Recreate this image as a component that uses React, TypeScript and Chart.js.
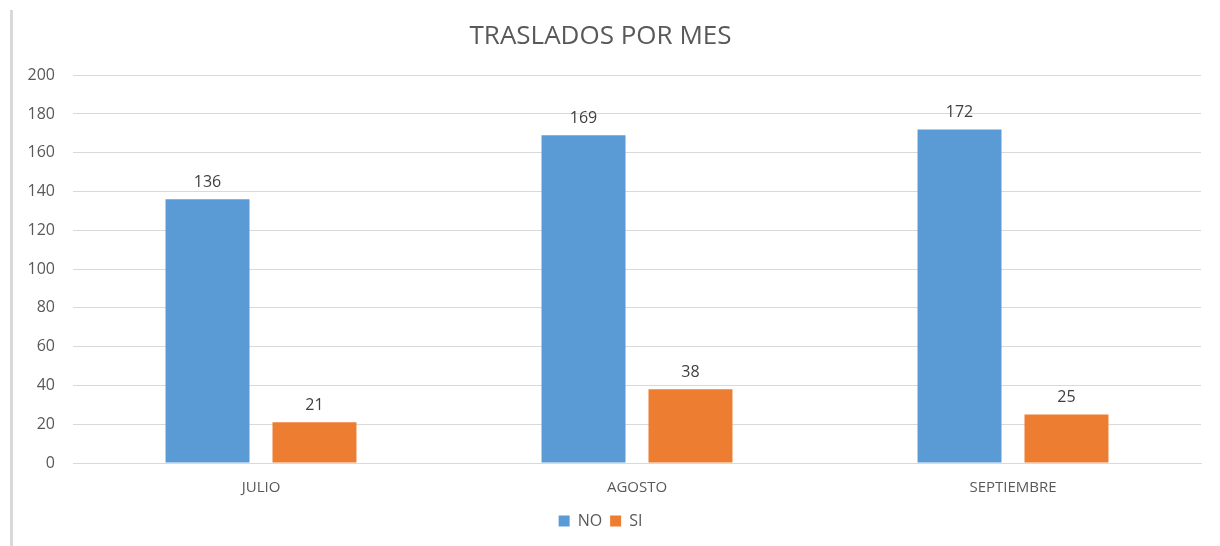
import React, { useEffect, useRef } from "react";
import { Chart, registerables } from "chart.js";

Chart.register(...registerables);

const categories = ["JULIO", "AGOSTO", "SEPTIEMBRE"];
const seriesNames = ["NO", "SI"];
const noValues = [136, 169, 172];
const siValues = [21, 38, 25];
const colors = ["#5B9BD5", "#ED7D31"];
const titleText = "TRASLADOS POR MES";

const FONT = "'Open Sans', 'Noto Sans', sans-serif";
const TEXT = "#595959";

const labelPlugin = {
  id: "barLabels",
  afterDatasetsDraw(chart: any) {
    const ctx = chart.ctx;
    ctx.save();
    ctx.font = `16px ${FONT}`;
    ctx.fillStyle = "#404040";
    ctx.textAlign = "center";
    ctx.textBaseline = "middle";
    chart.data.datasets.forEach((ds: any, i: number) => {
      const meta = chart.getDatasetMeta(i);
      meta.data.forEach((bar: any, j: number) => {
        ctx.fillText(String(ds.data[j]), bar.x, bar.y - 17);
      });
    });
    ctx.restore();
  },
};

export default function App() {
  const ref = useRef<HTMLCanvasElement | null>(null);
  useEffect(() => {
    if (!ref.current) return;
    const chart = new Chart(ref.current, {
      type: "bar",
      data: {
        labels: categories,
        datasets: [
          { label: seriesNames[0], data: noValues, backgroundColor: colors[0] },
          { label: seriesNames[1], data: siValues, backgroundColor: colors[1] },
        ],
      },
      plugins: [labelPlugin],
      options: {
        animation: false,
        responsive: false,
        maintainAspectRatio: false,
        layout: { padding: { left: 0, right: 19, top: 8, bottom: 7 } },
        datasets: {
          bar: { categoryPercentage: 0.569, barPercentage: 0.785 },
        },
        plugins: {
          title: {
            display: true,
            text: titleText,
            color: TEXT,
            font: { family: FONT, size: 26, weight: "normal" },
            padding: { top: 13, bottom: 23 },
          },
          legend: {
            position: "bottom",
            labels: {
              boxWidth: 11,
              boxHeight: 11,
              color: TEXT,
              font: { family: FONT, size: 16 },
              padding: 8,
            },
          },
          tooltip: { enabled: false },
        },
        scales: {
          x: {
            grid: { display: false },
            border: { display: true, color: "#d9d9d9", width: 1 },
            ticks: { color: TEXT, font: { family: FONT, size: 15 }, padding: 8 },
          },
          y: {
            min: 0,
            max: 200,
            afterFit(scale: any) {
              scale.width = 73;
            },
            ticks: { stepSize: 20, color: TEXT, font: { family: FONT, size: 16 }, padding: 18 },
            grid: { color: "#d9d9d9", drawTicks: false },
            border: { display: false },
          },
        },
      },
    } as any);
    return () => chart.destroy();
  }, []);
  return (
    <div style={{ position: "fixed", left: 0, top: 0, width: 1220, height: 546, background: "#fff" }}>
      <div style={{ position: "absolute", left: 10, top: 10, width: 3, height: 536, background: "#d9d9d9" }} />
      <canvas ref={ref} width={1220} height={546} style={{ position: "absolute", left: 0, top: 0 }} />
    </div>
  );
}
